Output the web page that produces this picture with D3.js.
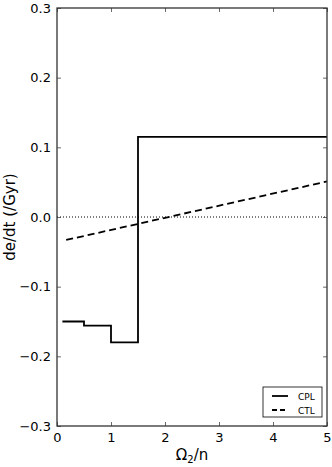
<!DOCTYPE html>
<html>
<head>
<meta charset="utf-8">
<script src="https://cdn.jsdelivr.net/npm/d3@7"></script>
<style>
  body { margin: 0; background: #fff; }
  text { font-family: "DejaVu Sans", sans-serif; }
</style>
</head>
<body>
<div id="chart"></div>
<script>
// CPL: step function (x, y) corners
var cplX = [0.1, 0.5, 0.5, 1.0, 1.0, 1.5, 1.5, 5.0];
var cplY = [-0.150, -0.150, -0.156, -0.156, -0.180, -0.180, 0.115, 0.115];
// CTL: straight line ends
var ctlX = [0.17, 5.0];
var ctlY = [-0.033, 0.051];
var xTicks = [0, 1, 2, 3, 4, 5];
var yTicks = [-0.3, -0.2, -0.1, 0.0, 0.1, 0.2, 0.3];
var legendNames = ["CPL", "CTL"];

var W = 332, H = 467;
var margin = {top: 8, right: 5, bottom: 41, left: 57};
var width = W - margin.left - margin.right;
var height = H - margin.top - margin.bottom;

var svg = d3.select("#chart")
    .append("svg")
    .attr("width", W)
    .attr("height", H);

var g = svg.append("g")
    .attr("transform", "translate(" + margin.left + "," + margin.top + ")");

var x = d3.scaleLinear().domain([0, 5]).range([0, width]);
var y = d3.scaleLinear().domain([-0.3, 0.3]).range([height, 0]);

// zero reference line
g.append("line")
    .attr("x1", 0).attr("x2", width)
    .attr("y1", y(0)).attr("y2", y(0))
    .attr("stroke", "#000")
    .attr("stroke-width", 1)
    .attr("stroke-dasharray", "1,2");

var line = d3.line()
    .x(function (d) { return x(d[0]); })
    .y(function (d) { return y(d[1]); });

var cpl = cplX.map(function (v, i) { return [v, cplY[i]]; });
var ctl = ctlX.map(function (v, i) { return [v, ctlY[i]]; });

g.append("path")
    .datum(cpl)
    .attr("d", line)
    .attr("fill", "none")
    .attr("stroke", "#000")
    .attr("stroke-width", 1.8);

g.append("path")
    .datum(ctl)
    .attr("d", line)
    .attr("fill", "none")
    .attr("stroke", "#000")
    .attr("stroke-width", 1.8)
    .attr("stroke-dasharray", "7,4");

function fmtY(d) {
    var s = d3.format(".1f")(Math.abs(d));
    return (d < -1e-9 ? "\u2212" : "") + s;
}

// axes, ticks inside, on all sides
var axB = d3.axisBottom(x).tickValues(xTicks).tickSize(-4).tickPadding(7).tickFormat(d3.format("d"));
var axT = d3.axisTop(x).tickValues(xTicks).tickSize(-4).tickFormat("");
var axL = d3.axisLeft(y).tickValues(yTicks).tickSize(-4).tickPadding(6).tickFormat(fmtY);
var axR = d3.axisRight(y).tickValues(yTicks).tickSize(-4).tickFormat("");

function styleAxis(sel) {
    sel.select(".domain").remove();
    sel.selectAll(".tick line").attr("stroke", "#444").attr("stroke-width", 0.8);
    sel.selectAll("text").attr("fill", "#000").style("font-size", "13px")
        .style("font-family", "'DejaVu Sans', sans-serif");
}

g.append("g").attr("transform", "translate(0," + height + ")").call(axB).call(styleAxis);
g.append("g").call(axT).call(styleAxis);
g.append("g").call(axL).call(styleAxis);
g.append("g").attr("transform", "translate(" + width + ",0)").call(axR).call(styleAxis);

// frame
g.append("rect")
    .attr("x", 0).attr("y", 0)
    .attr("width", width).attr("height", height)
    .attr("fill", "none")
    .attr("stroke", "#333")
    .attr("stroke-width", 1.3);

// axis labels
var xl = svg.append("text")
    .attr("x", margin.left + width / 2)
    .attr("y", 460)
    .attr("text-anchor", "middle")
    .style("font-size", "15px");
xl.append("tspan").text("\u03A9");
xl.append("tspan").attr("dy", 3).style("font-size", "10px").text("2");
xl.append("tspan").attr("dy", -3).text("/n");

svg.append("text")
    .attr("transform", "translate(15," + (margin.top + height / 2) + ") rotate(-90)")
    .attr("text-anchor", "middle")
    .style("font-size", "15px")
    .text("de/dt (/Gyr)");

// legend
var lg = svg.append("g").attr("transform", "translate(263,387)");
lg.append("rect")
    .attr("width", 59).attr("height", 30)
    .attr("fill", "#fff")
    .attr("stroke", "#000")
    .attr("stroke-width", 0.8);
legendNames.forEach(function (name, i) {
    var yy = 9 + i * 14;
    lg.append("line")
        .attr("x1", 9).attr("x2", 25)
        .attr("y1", yy).attr("y2", yy)
        .attr("stroke", "#000")
        .attr("stroke-width", 1.8)
        .attr("stroke-dasharray", i === 1 ? "5,3" : null);
    lg.append("text")
        .attr("x", 35).attr("y", yy + 3.5)
        .style("font-size", "9px")
        .text(name);
});
</script>
</body>
</html>
